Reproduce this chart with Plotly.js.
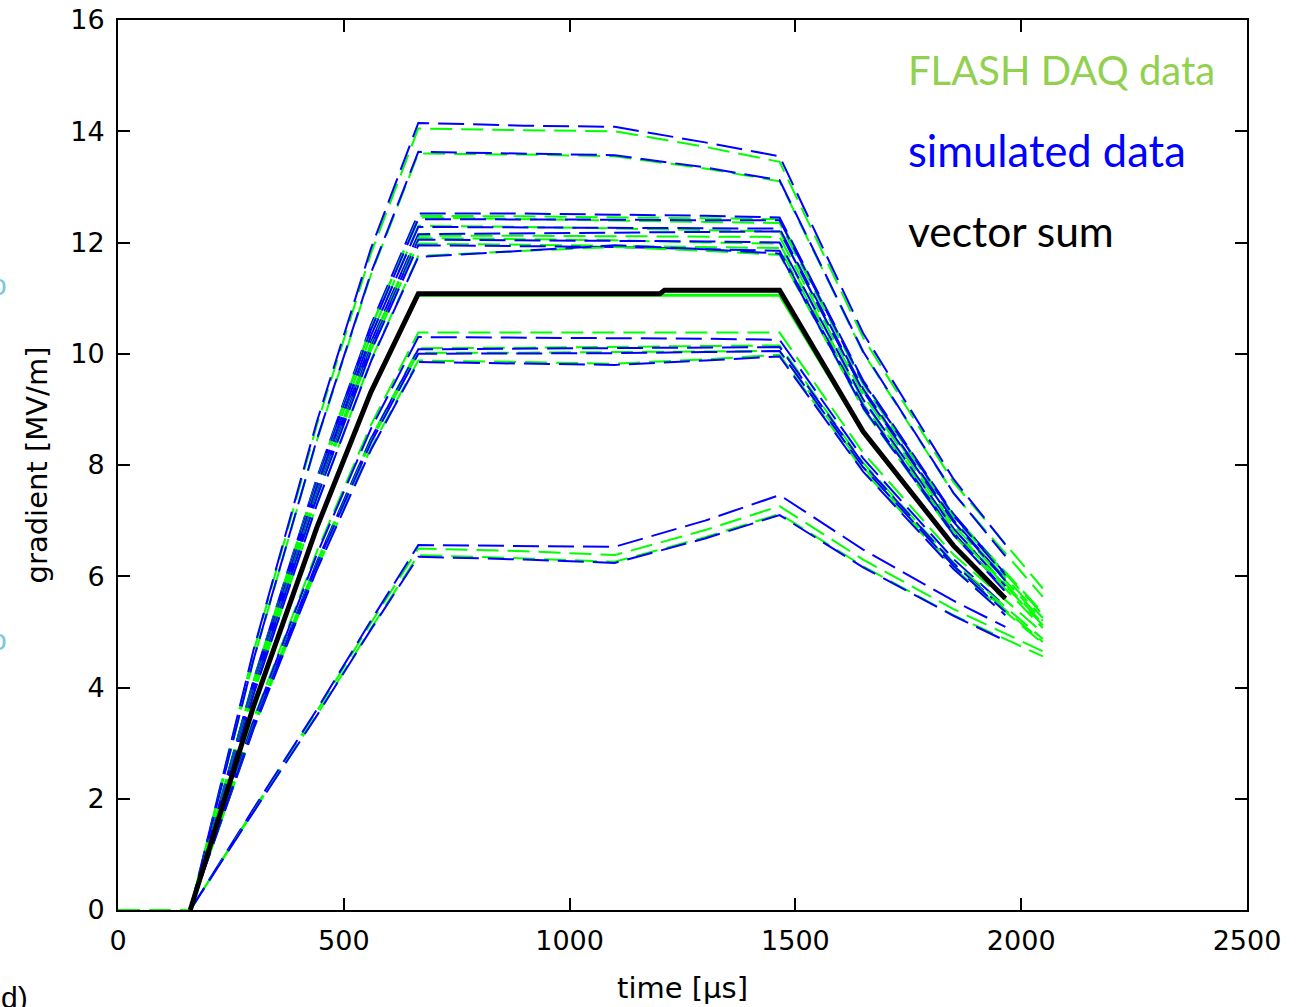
<!DOCTYPE html>
<html>
<head>
<meta charset="utf-8">
<script src="https://cdn.plot.ly/plotly-3.0.1.min.js"></script>
<style>
  html, body { margin: 0; padding: 0; background: #ffffff; }
  #chart { width: 1299px; height: 1007px; }
</style>
</head>
<body>
<div id="chart"></div>
<script>
// ---- time bases (µs) ----
const tDaq = [0, 160, 300, 440, 560, 665, 900, 1100, 1300, 1465, 1650, 1850, 2048];
const tSim = [160, 300, 440, 560, 665, 900, 1100, 1300, 1465, 1650, 1850, 1965];

// ---- simulated data (blue) and FLASH DAQ data (green), gradient in MV/m ----
const sim01 = [0, 4.67, 8.77, 11.89, 14.15, 14.10, 14.08, 13.80, 13.55, 10.37, 7.75, 6.57];
const daq01 = [0, 0, 4.64, 8.71, 11.80, 14.05, 14.02, 14.00, 13.72, 13.45, 10.29, 7.69, 5.78];
const sim02 = [0, 4.50, 8.45, 11.45, 13.63, 13.60, 13.57, 13.35, 13.12, 10.04, 7.50, 6.36];
const daq02 = [0, 0, 4.49, 8.43, 11.42, 13.60, 13.58, 13.55, 13.33, 13.10, 10.02, 7.49, 5.63];
const sim03 = [0, 4.13, 7.76, 10.52, 12.52, 12.52, 12.50, 12.48, 12.45, 9.52, 7.12, 6.04];
const daq03 = [0, 0, 4.12, 7.74, 10.48, 12.48, 12.47, 12.45, 12.44, 12.42, 9.50, 7.10, 5.34];
const sim04 = [0, 4.10, 7.70, 10.43, 12.42, 12.42, 12.41, 12.40, 12.40, 9.49, 7.09, 6.01];
const daq04 = [0, 0, 4.11, 7.72, 10.46, 12.45, 12.42, 12.40, 12.37, 12.35, 9.45, 7.06, 5.31];
const sim05 = [0, 4.05, 7.61, 10.32, 12.28, 12.27, 12.27, 12.26, 12.25, 9.37, 7.01, 5.94];
const daq05 = [0, 0, 4.06, 7.63, 10.33, 12.30, 12.28, 12.25, 12.22, 12.20, 9.33, 6.98, 5.25];
const sim06 = [0, 4.01, 7.53, 10.21, 12.15, 12.16, 12.17, 12.19, 12.20, 9.33, 6.98, 5.92];
const daq06 = [0, 0, 4.00, 7.51, 10.18, 12.12, 12.12, 12.11, 12.10, 12.10, 9.26, 6.92, 5.20];
const sim07 = [0, 3.98, 7.47, 10.12, 12.05, 12.04, 12.03, 12.02, 12.00, 9.18, 6.86, 5.82];
const daq07 = [0, 0, 3.99, 7.49, 10.15, 12.08, 12.06, 12.04, 12.00, 11.98, 9.16, 6.85, 5.15];
const sim08 = [0, 3.94, 7.41, 10.04, 11.95, 11.93, 11.92, 11.88, 11.85, 9.07, 6.78, 5.75];
const daq08 = [0, 0, 3.95, 7.43, 10.06, 11.98, 11.96, 11.94, 11.92, 11.90, 9.10, 6.81, 5.12];
const sim09 = [0, 3.87, 7.28, 9.86, 11.74, 11.85, 11.95, 11.88, 11.80, 9.03, 6.75, 5.72];
const daq09 = [0, 0, 3.88, 7.29, 9.88, 11.76, 11.85, 11.92, 11.85, 11.78, 9.01, 6.74, 5.07];
const sim10 = [0, 3.40, 6.39, 8.65, 10.30, 10.29, 10.28, 10.27, 10.25, 8.12, 6.31, 5.46];
const daq10 = [0, 0, 3.43, 6.44, 8.72, 10.38, 10.38, 10.38, 10.38, 10.38, 8.22, 6.39, 4.98];
const sim11 = [0, 3.33, 6.25, 8.47, 10.08, 10.09, 10.10, 10.11, 10.12, 8.02, 6.23, 5.39];
const daq11 = [0, 0, 3.33, 6.26, 8.48, 10.10, 10.11, 10.12, 10.14, 10.15, 8.04, 6.25, 4.87];
const sim12 = [0, 3.25, 6.11, 8.27, 9.85, 9.82, 9.80, 9.88, 9.95, 7.88, 6.13, 5.30];
const daq12 = [0, 0, 3.26, 6.13, 8.30, 9.88, 9.85, 9.82, 9.90, 9.98, 7.90, 6.15, 4.79];
const sim13 = [0, 3.30, 6.20, 8.40, 10.00, 10.00, 10.01, 10.03, 10.05, 7.96, 6.19, 5.36];
const daq13 = [0, 0, 3.31, 6.21, 8.42, 10.02, 10.02, 10.03, 10.04, 10.05, 7.96, 6.19, 4.82];
const sim14 = [0, 1.82, 3.60, 5.20, 6.56, 6.55, 6.53, 7.00, 7.46, 6.48, 5.56, 5.09];
const daq14 = [0, 0, 1.80, 3.57, 5.16, 6.50, 6.45, 6.38, 6.83, 7.26, 6.30, 5.41, 4.65];
const sim15 = [0, 1.76, 3.49, 5.04, 6.35, 6.30, 6.24, 6.68, 7.10, 6.16, 5.29, 4.84];
const daq15 = [0, 0, 1.77, 3.50, 5.06, 6.38, 6.32, 6.26, 6.70, 7.12, 6.18, 5.30, 4.56];

// ---- vector sum ----
const tVec = [160, 300, 440, 560, 665, 1200, 1210, 1465, 1650, 1850, 1965];
const vecSum = [0, 3.66, 6.87, 9.31, 11.08, 11.08, 11.14, 11.14, 8.60, 6.55, 5.60];
const vecDaq = [0, 3.66, 6.87, 9.31, 11.05, 11.05, 11.05, 11.05, 8.58, 6.55, 5.58];

// ---- axis ticks / labels ----
const xTicks = [0, 500, 1000, 1500, 2000, 2500];
const yTicks = [0, 2, 4, 6, 8, 10, 12, 14, 16];
const legendTexts = ["FLASH DAQ data", "simulated data", "vector sum"];
const legendColors = ["#92D050", "#0000FF", "#000000"];
const legendSizes = [40, 43.5, 42.5];

const simSeries = [sim01, sim02, sim03, sim04, sim05, sim06, sim07, sim08, sim09, sim10, sim11, sim12, sim13, sim14, sim15];
const daqSeries = [daq01, daq02, daq03, daq04, daq05, daq06, daq07, daq08, daq09, daq10, daq11, daq12, daq13, daq14, daq15];

const traces = [];
for (let i = 0; i < simSeries.length; i++) {
  traces.push({
    x: tDaq, y: daqSeries[i], type: 'scatter', mode: 'lines', showlegend: false, hoverinfo: 'skip',
    line: { color: '#00FF00', width: 2, dash: '22px,9px' }
  });
  traces.push({
    x: tSim, y: simSeries[i], type: 'scatter', mode: 'lines', showlegend: false, hoverinfo: 'skip',
    line: { color: '#0000FF', width: 2, dash: '26px,9px' }
  });
}
traces.push({
  x: tVec, y: vecDaq, type: 'scatter', mode: 'lines', showlegend: false, hoverinfo: 'skip',
  line: { color: '#00FF00', width: 3 }
});
traces.push({
  x: tVec, y: vecSum, type: 'scatter', mode: 'lines', showlegend: false, hoverinfo: 'skip',
  line: { color: '#000000', width: 5 }
});

const tickFont = { family: 'DejaVu Sans, sans-serif', size: 27, color: '#000000' };
const annotations = [];
for (let i = 0; i < legendTexts.length; i++) {
  annotations.push({
    xref: 'x', yref: 'y', x: 1745, y: 15.1 - i * 1.44,
    xanchor: 'left', yanchor: 'middle', showarrow: false,
    text: legendTexts[i],
    font: { family: 'Lato, "Open Sans", sans-serif', size: legendSizes[i], color: legendColors[i] }
  });
}
// cut-off slide fragments at the left edge
annotations.push({ xref: 'paper', yref: 'paper', x: -0.078, y: -0.077, xanchor: 'right', yanchor: 'top', showarrow: false,
  text: 'd)', font: { family: 'Liberation Sans, sans-serif', size: 30, color: '#000000' } });
annotations.push({ xref: 'paper', yref: 'paper', x: -0.0965, y: 0.703, xanchor: 'right', yanchor: 'middle', showarrow: false,
  text: 'o', font: { family: 'Liberation Sans, sans-serif', size: 30, color: '#7CC8DE' } });
annotations.push({ xref: 'paper', yref: 'paper', x: -0.0965, y: 0.304, xanchor: 'right', yanchor: 'middle', showarrow: false,
  text: 'o', font: { family: 'Liberation Sans, sans-serif', size: 30, color: '#7CC8DE' } });

const layout = {
  width: 1299, height: 1007,
  paper_bgcolor: '#ffffff', plot_bgcolor: '#ffffff',
  margin: { l: 118, r: 52, t: 20, b: 97, pad: 0 },
  showlegend: false,
  xaxis: {
    range: [0, 2500], tickvals: xTicks, ticktext: xTicks.map(String),
    showgrid: false, zeroline: false, showline: true, linecolor: '#000000', linewidth: 2,
    mirror: 'ticks', ticks: 'inside', ticklen: 12, tickwidth: 2, tickcolor: '#000000',
    tickfont: tickFont, ticklabelstandoff: 6,
    title: { text: 'time [µs]', font: { family: 'DejaVu Sans, sans-serif', size: 29, color: '#000000' }, standoff: 22 }
  },
  yaxis: {
    range: [0, 16], tickvals: yTicks, ticktext: yTicks.map(String),
    showgrid: false, zeroline: false, showline: true, linecolor: '#000000', linewidth: 2,
    mirror: 'ticks', ticks: 'inside', ticklen: 12, tickwidth: 2, tickcolor: '#000000',
    tickfont: tickFont, ticklabelstandoff: 6,
    title: { text: 'gradient [MV/m]', font: { family: 'DejaVu Sans, sans-serif', size: 29, color: '#000000' }, standoff: 14 }
  },
  annotations: annotations
};

Plotly.newPlot('chart', traces, layout, { displayModeBar: false, staticPlot: true });
</script>
</body>
</html>
